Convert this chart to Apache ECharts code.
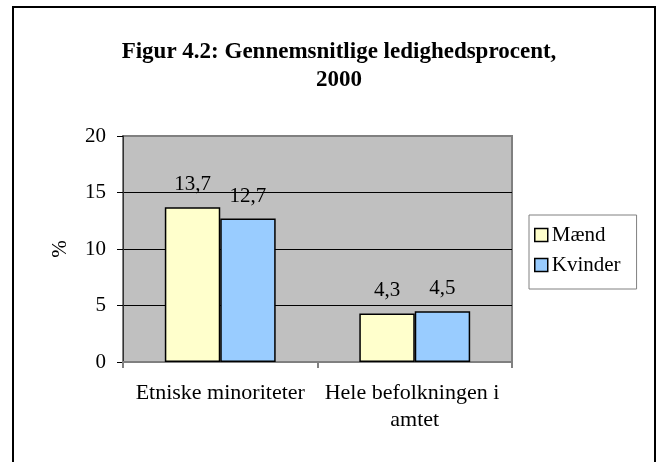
<!DOCTYPE html>
<html>
<head>
<meta charset="utf-8">
<title>Figur 4.2</title>
<script src="https://cdn.jsdelivr.net/npm/echarts@6/dist/echarts.min.js"></script>
<style>
  html, body { margin: 0; padding: 0; background: #fff; }
  #main { width: 659px; height: 462px; }
</style>
</head>
<body>
<div id="main"></div>
<script>
// data
var categories = ["Etniske minoriteter", "Hele befolkningen i amtet"];
var seriesNames = ["Mænd", "Kvinder"];
var maend = [13.7, 4.3];
var kvinder = [12.7, 4.5];
var yTicks = [0, 5, 10, 15, 20];

var serif = "Liberation Serif, Times New Roman, serif";

var myChart = echarts.init(document.getElementById("main"));

function komma(p) {
  return String(p.value).replace(".", ",");
}

var option = {
  backgroundColor: "#fff",
  animation: false,
  title: {
    text: "Figur 4.2: Gennemsnitlige ledighedsprocent,\n2000",
    left: 334,
    top: 33,
    textAlign: "center",
    textStyle: {
      fontFamily: serif,
      fontWeight: "bold",
      fontSize: 23,
      lineHeight: 28,
      color: "#000"
    }
  },
  legend: {
    orient: "vertical",
    left: 529,
    top: 215,
    padding: [9, 16, 13, 5],
    icon: "rect",
    itemWidth: 13,
    itemHeight: 13,
    itemGap: 8,
    backgroundColor: "#fff",
    borderColor: "#808080",
    borderWidth: 1,
    data: seriesNames,
    itemStyle: { borderColor: "#000", borderWidth: 1.5 },
    textStyle: {
      fontFamily: serif,
      fontSize: 21,
      lineHeight: 22,
      color: "#000",
      padding: [0, 0, 0, -1]
    }
  },
  grid: {
    left: 123,
    right: 147,
    top: 136,
    bottom: 100,
    show: true,
    backgroundColor: "#C0C0C0",
    borderColor: "#808080",
    borderWidth: 2
  },
  xAxis: {
    type: "category",
    data: categories,
    axisLine: { lineStyle: { color: "#808080", width: 2 } },
    axisTick: { show: true, length: 6, lineStyle: { color: "#808080", width: 2 } },
    axisLabel: {
      interval: 0,
      fontFamily: serif,
      fontSize: 22,
      lineHeight: 27,
      color: "#000",
      margin: 18,
      width: 190,
      overflow: "break"
    }
  },
  yAxis: {
    type: "value",
    min: yTicks[0],
    max: yTicks[yTicks.length - 1],
    interval: 5,
    name: "%",
    nameLocation: "middle",
    nameGap: 52,
    nameRotate: 90,
    nameTextStyle: { fontFamily: serif, fontSize: 21, color: "#000" },
    axisLine: { show: true, lineStyle: { color: "#333", width: 1 } },
    axisTick: { show: true, length: 6, lineStyle: { color: "#000", width: 1 } },
    axisLabel: {
      fontFamily: serif,
      fontSize: 21,
      color: "#000",
      margin: 17
    },
    splitLine: {
      show: true,
      lineStyle: { color: ["#808080", "#000", "#000", "#000", "#808080"], width: 1 }
    }
  },
  series: [
    {
      name: seriesNames[0],
      type: "bar",
      data: maend,
      barGap: "0%",
      barCategoryGap: "43%",
      itemStyle: { color: "#FFFFCC", borderColor: "#000", borderWidth: 1.5 },
      label: {
        show: true,
        position: "top",
        distance: 12,
        formatter: komma,
        fontFamily: serif,
        fontSize: 21,
        color: "#000"
      }
    },
    {
      name: seriesNames[1],
      type: "bar",
      data: kvinder,
      itemStyle: { color: "#99CCFF", borderColor: "#000", borderWidth: 1.5 },
      label: {
        show: true,
        position: "top",
        distance: 12,
        formatter: komma,
        fontFamily: serif,
        fontSize: 21,
        color: "#000"
      }
    }
  ],
  graphic: [
    {
      type: "rect",
      shape: { x: 13, y: 7, width: 642, height: 470 },
      style: { fill: "none", stroke: "#000", lineWidth: 2 },
      silent: true
    }
  ]
};

myChart.setOption(option);
</script>
</body>
</html>
